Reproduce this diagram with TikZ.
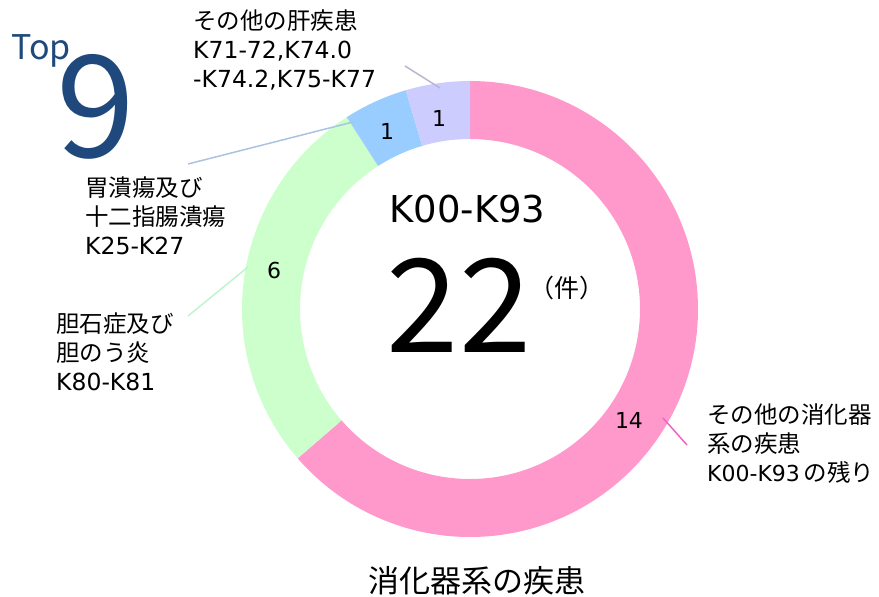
\documentclass[tikz,border=0pt]{standalone}
\usepackage{fontspec}
\setmainfont{DejaVu Sans}
\newfontfamily\jpfont{Noto Sans CJK JP}
\usetikzlibrary{calc}
\definecolor{slicepink}{RGB}{255,153,204}
\definecolor{slicegreen}{RGB}{204,255,204}
\definecolor{sliceblue}{RGB}{153,204,255}
\definecolor{slicelav}{RGB}{204,204,255}
\definecolor{topblue}{RGB}{31,73,125}
\definecolor{leadpink}{RGB}{240,100,200}
\definecolor{leadgreen}{RGB}{190,245,205}
\definecolor{leadblue}{RGB}{170,195,225}
\definecolor{leadlav}{RGB}{190,180,210}
\newcommand{\Slice}[3]{\fill[#3] ($(c)+(#1:228)$) arc[start angle=#1,end angle=#2,radius=228pt] -- ($(c)+(#2:170)$) arc[start angle=#2,end angle=#1,radius=170pt] -- cycle;}

\begin{document}
\begin{tikzpicture}[x=1pt,y=1pt,
  lab/.style={align=left,anchor=west,inner sep=0pt,font=\fontsize{23.5}{29}\selectfont},
  num/.style={inner sep=0pt,font=\fontsize{22}{22}\selectfont},
  lead/.style={line width=1.5pt}]
\useasboundingbox (0,0) rectangle (879,-597);
\coordinate (c) at (470,-309);
\Slice{90}{-139.09}{slicepink}
\Slice{220.91}{122.73}{slicegreen}
\Slice{122.73}{106.36}{sliceblue}
\Slice{106.36}{90}{slicelav}
\node[num] (n14) at (629,-420) {14};
\node[num] (n6) at (274,-270) {6};
\node[num] (n1b) at (387,-131) {1};
\node[num] (n1l) at (439,-118) {1};
\node[inner sep=0pt,anchor=base west,text=topblue,font=\jpfont\fontsize{34}{34}\selectfont] (top) at (11,-59) {Top};
\node[inner sep=0pt,anchor=base west,text=topblue,font=\jpfont\fontsize{142}{142}\selectfont] (nine) at (56,-157) {9};
\node[inner sep=0pt,anchor=base,font=\fontsize{37}{37}\selectfont] (code) at (467.5,-222) {K00-K93};
\node[inner sep=0pt,anchor=base,font=\jpfont\fontsize{130}{130}\selectfont] (total) at (459,-352) {22};
\node[inner sep=0pt,font=\jpfont\fontsize{25}{25}\selectfont] (unit) at (567,-288) {（件）};
\node[inner sep=0pt,font=\jpfont\fontsize{31}{31}\selectfont] (title) at (477,-581) {消化器系の疾患};
\node[lab] (liver) at (193,-50) {{\jpfont その他の肝疾患}\\K71-72,K74.0\\-K74.2,K75-K77};
\node[lab] (ulcer) at (85,-216) {{\jpfont 胃潰瘍及び}\\{\jpfont 十二指腸潰瘍}\\K25-K27};
\node[lab] (gall) at (56,-352) {{\jpfont 胆石症及び}\\{\jpfont 胆のう炎}\\K80-K81};
\node[lab] (other) at (707,-444) {{\jpfont その他の消化器}\\{\jpfont 系の疾患}\\{\fontsize{22}{29}\selectfont K00-K93}\hspace{0.15em}{\jpfont の残り}};
\coordinate (liverA) at (405,-66);
\coordinate (liverB) at (440,-88);
\coordinate (ulcerA) at (188,-164);
\coordinate (ulcerB) at (353,-122);
\coordinate (gallA) at (188,-316);
\coordinate (gallB) at (248,-267);
\coordinate (otherA) at (687,-445);
\coordinate (otherB) at (663,-418);
\draw[lead,leadlav] (liverA) -- (liverB);
\draw[lead,leadblue] (ulcerA) -- (ulcerB);
\draw[lead,leadgreen] (gallA) -- (gallB);
\draw[lead,leadpink] (otherA) -- (otherB);
\end{tikzpicture}
\end{document}
